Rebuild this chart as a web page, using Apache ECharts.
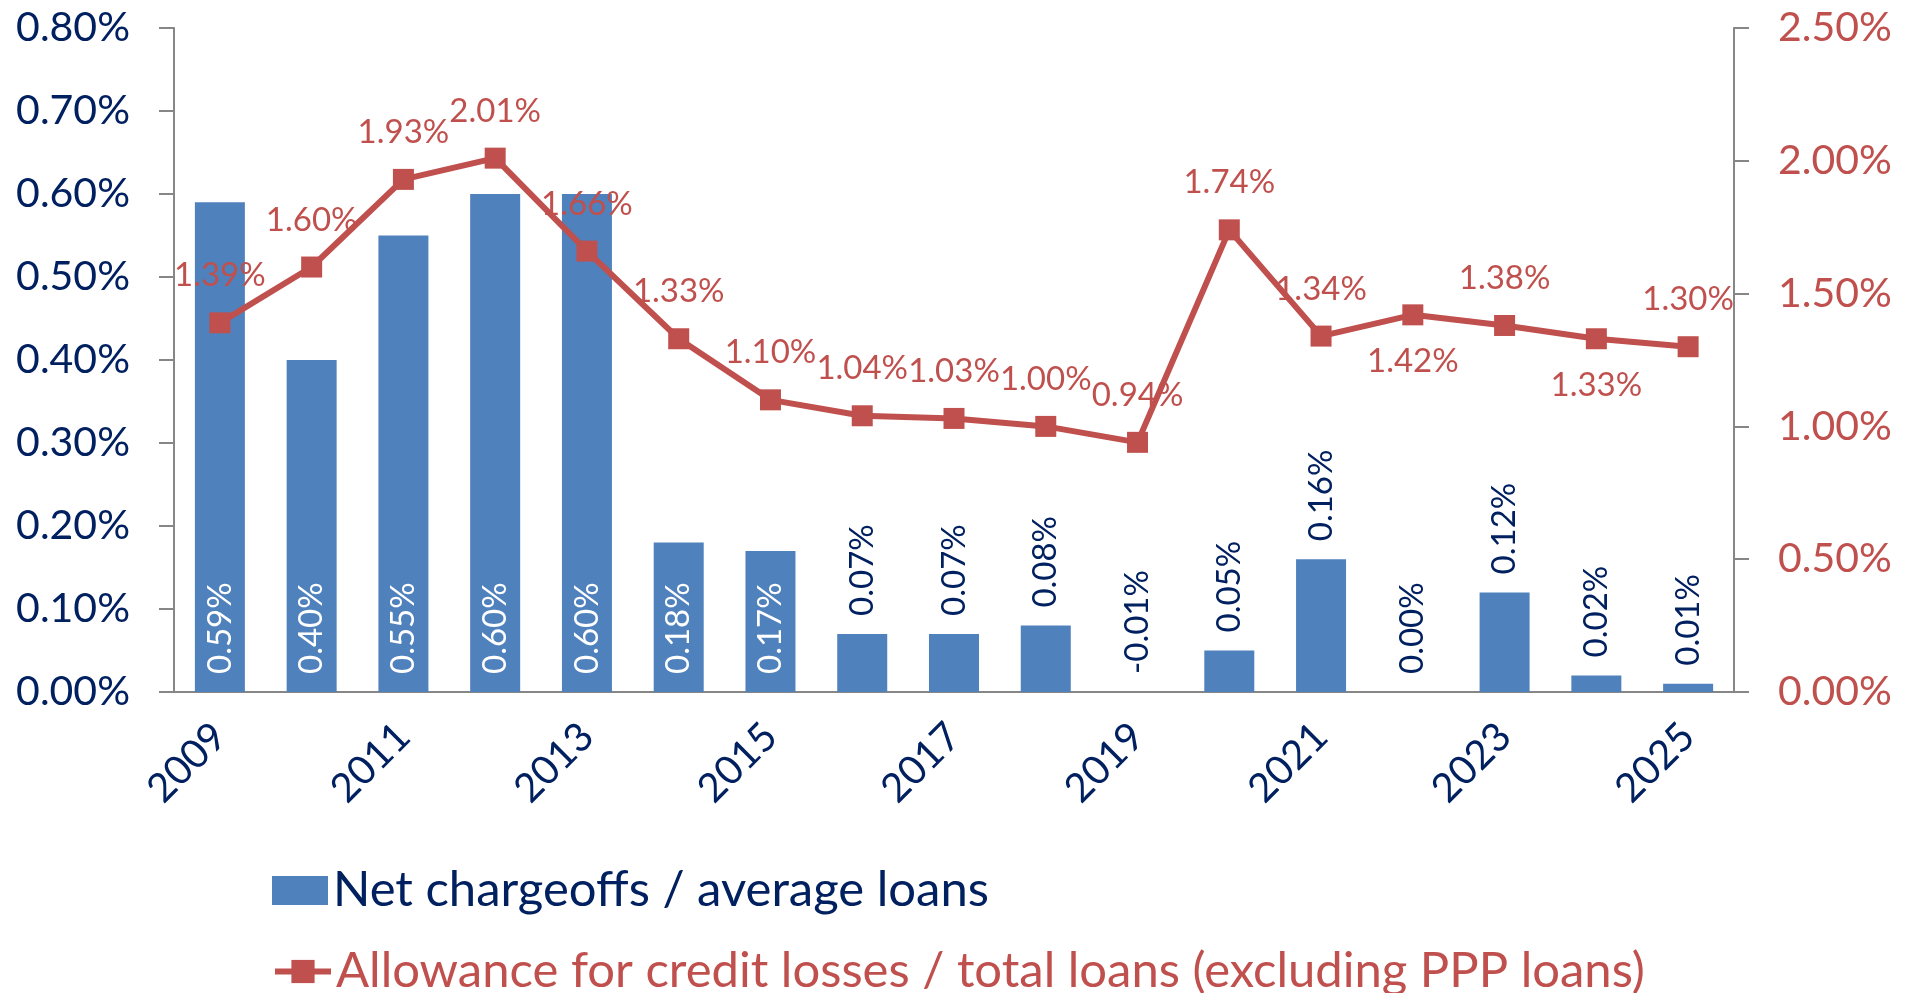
<!DOCTYPE html>
<html>
<head>
<meta charset="utf-8">
<script src="https://cdn.jsdelivr.net/npm/echarts@6/dist/echarts.min.js"></script>
<style>
html, body { margin: 0; padding: 0; background: #fff; }
#chart { width: 1913px; height: 993px; }
</style>
</head>
<body>
<div id="chart"></div>
<script>
var years = ['2009', '2010', '2011', '2012', '2013', '2014', '2015', '2016', '2017',
    '2018', '2019', '2020', '2021', '2022', '2023', '2024', '2025'];
// net chargeoffs / average loans, %
var netChargeoffs = [0.59, 0.40, 0.55, 0.60, 0.60, 0.18, 0.17, 0.07, 0.07, 0.08, -0.01, 0.05, 0.16, 0.00, 0.12, 0.02, 0.01];
// allowance for credit losses / total loans (ex PPP), %
var allowance = [1.39, 1.60, 1.93, 2.01, 1.66, 1.33, 1.10, 1.04, 1.03, 1.00, 0.94, 1.74, 1.34, 1.42, 1.38, 1.33, 1.30];
var leftAxisMax = 0.8, leftAxisStep = 0.1;
var rightAxisMax = 2.5, rightAxisStep = 0.5;

var navy = '#002060';
var blue = '#4F81BD';
var red = '#C0504D';
var grey = '#868686';
var font = 'Lato, "Open Sans", sans-serif';

function pct(v) {
    return v.toFixed(2) + '%';
}

var barName = 'Net chargeoffs / average loans';
var lineName = 'Allowance for credit losses / total loans (excluding PPP loans)';

// big bars carry their label inside, small ones above
var barData = netChargeoffs.map(function(v) {
    return {
        value: v,
        label: v >= 0.17 ? { position: 'insideBottom', color: '#fff' } : { position: 'top', color: navy }
    };
});
// these two labels sit under the marker
var labelsBelow = ['2022', '2024'];
var lineData = allowance.map(function(v, i) {
    return {
        value: v,
        label: { position: labelsBelow.indexOf(years[i]) >= 0 ? 'bottom' : 'top' }
    };
});

// one legend per row, so they stack like the original
function legendRow(name, color, top, icon) {
    var row = {
        left: 267,
        top: top,
        itemWidth: 56,
        itemHeight: 29,
        lineStyle: { width: 6 },
        textStyle: { fontSize: 49, fontFamily: font, color: color },
        data: [name]
    };
    if (icon) row.icon = icon;
    return row;
}

var option = {
    animation: false,
    textStyle: { fontFamily: font },
    grid: { left: 174, right: 179, top: 28, bottom: 301 },
    legend: [
        legendRow(barName, navy, 861, 'rect'),
        legendRow(lineName, red, 942)
    ],
    xAxis: {
        type: 'category',
        data: years,
        axisLine: { lineStyle: { color: grey, width: 2 } },
        axisTick: { interval: 0, length: 14, lineStyle: { color: grey, width: 2 } },
        axisLabel: { interval: 1, rotate: 45, fontSize: 40, color: navy, margin: 38 }
    },
    yAxis: [{
        type: 'value',
        min: 0,
        max: leftAxisMax,
        interval: leftAxisStep,
        position: 'left',
        splitLine: { show: false },
        axisLine: { show: true, lineStyle: { color: grey, width: 2 } },
        axisTick: { show: true, length: 15, lineStyle: { color: grey, width: 2 } },
        axisLabel: { fontSize: 41, color: navy, margin: 44, formatter: pct }
    }, {
        type: 'value',
        min: 0,
        max: rightAxisMax,
        interval: rightAxisStep,
        position: 'right',
        splitLine: { show: false },
        axisLine: { show: true, lineStyle: { color: grey, width: 2 } },
        axisTick: { show: true, length: 15, lineStyle: { color: grey, width: 2 } },
        axisLabel: { fontSize: 41, color: red, margin: 44, formatter: pct }
    }],
    series: [{
        name: barName,
        type: 'bar',
        barWidth: 50,
        itemStyle: { color: blue },
        label: {
            show: true,
            rotate: 90,
            align: 'left',
            verticalAlign: 'middle',
            distance: 18,
            fontSize: 33,
            formatter: function(p) { return pct(p.value); }
        },
        data: barData
    }, {
        name: lineName,
        type: 'line',
        yAxisIndex: 1,
        symbol: 'rect',
        symbolSize: 21,
        z: 5,
        lineStyle: { color: red, width: 6 },
        itemStyle: { color: red },
        label: {
            show: true,
            distance: 20,
            fontSize: 33,
            color: red,
            formatter: function(p) { return pct(p.value); }
        },
        data: lineData
    }]
};

var chart = echarts.init(document.getElementById('chart'));
chart.setOption(option);
</script>
</body>
</html>
